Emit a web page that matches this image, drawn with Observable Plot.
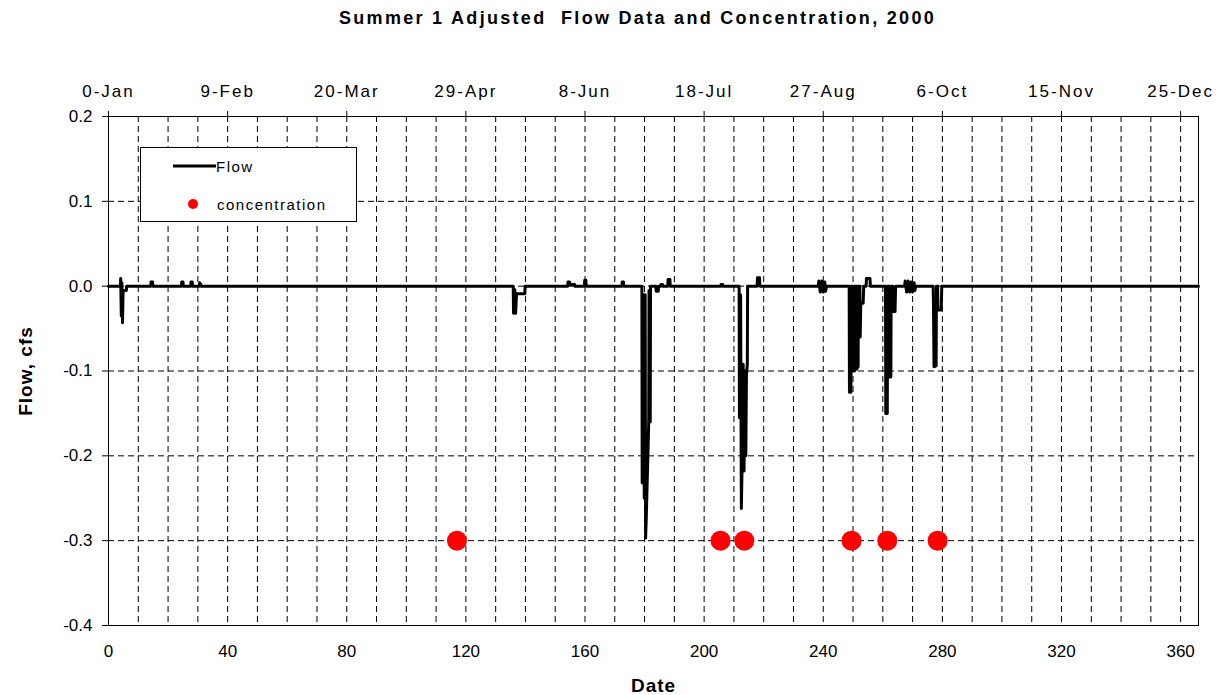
<!DOCTYPE html>
<html>
<head>
<meta charset="utf-8">
<script src="https://cdn.jsdelivr.net/npm/d3@7"></script>
<script src="https://cdn.jsdelivr.net/npm/@observablehq/plot@0.6"></script>
<style>
  body { margin: 0; background: #fff; font-family: "Liberation Sans", Arial, sans-serif; }
  #wrap { position: relative; width: 1227px; height: 695px; overflow: hidden; }
  #title { height: 36px; line-height: 36px; text-align: center; font-weight: bold; font-size: 18px;
           letter-spacing: 2.3px; white-space: pre; transform: translateX(24px); }
  #legend { position: absolute; left: 140px; top: 147px; width: 215px; height: 73px;
            border: 1px solid #000; background: #fff; font-size: 15px; letter-spacing: 1.5px; }
  #legend .row { position: absolute; left: 0; height: 20px; display: flex; align-items: center; }
  #legend svg { display: block; }
  #chart g[aria-label="y-axis label"] text,
  #chart g[aria-label="x-axis label"] text { font-weight: bold; font-size: 19px; letter-spacing: 1px; }
</style>
</head>
<body>
<div id="wrap">
  <div id="title"></div>
  <div id="chart"></div>
  <div id="legend"></div>
</div>
<script>
// Day of year (2000) and adjusted flow, cfs
const flowDays = [
  0,
  4.0, 4.1, 4.3, 4.5, 4.7, 4.9, 6.0, 6.1,
  14.2, 14.3, 14.8, 14.9,
  24.5, 24.6, 25.0, 25.1,
  27.6, 27.7, 28.1, 28.2,
  30.5, 30.6, 31.0, 31.1,
  135.9, 136.0, 136.4, 136.7, 137.0, 139.8, 139.9,
  154.2, 154.3, 154.8, 155.0, 156.5, 156.6,
  159.8, 159.9, 160.3, 160.4,
  172.4, 172.5, 172.9, 173.0,
  179.1, 179.2, 179.6, 179.9, 180.2, 180.35, 180.55, 181.4, 181.5, 181.9, 182.0,
  183.8, 183.9, 184.6, 184.7,
  185.4, 185.5, 186.0, 186.1,
  187.8, 187.9, 188.5, 188.6,
  205.6, 205.7, 206.2, 206.3,
  211.75, 211.85, 212.25, 212.5, 212.8, 213.1, 213.4, 213.7, 214.0, 214.2, 214.5, 214.6,
  217.8, 217.9, 218.6, 218.7,
  238.3, 238.5, 239.0, 239.5, 240.0, 240.5, 240.8, 241.1,
  248.7, 248.8, 249.3, 249.4, 249.9, 250.0, 250.5, 250.6, 251.1, 251.2, 251.7, 251.8, 252.3, 252.4, 252.6, 253.4, 253.6,
  254.4, 254.5, 255.7, 255.8,
  260.9, 261.0, 261.5, 261.6, 262.1, 262.2, 262.7, 262.8, 263.3, 263.4, 264.1, 264.3,
  267.3, 267.5, 268.0, 268.5, 269.0, 269.5, 270.0, 270.5, 270.8, 271.0,
  276.9, 277.0, 277.2, 277.9, 278.0, 278.4, 278.5, 279.6, 279.8,
  366
];
const flowCfs = [
  0,
  0, 0.009, -0.035, 0.004, -0.043, -0.005, -0.005, 0,
  0, 0.005, 0.005, 0,
  0, 0.005, 0.005, 0,
  0, 0.005, 0.005, 0,
  0, 0.004, 0.002, 0,
  0, -0.032, -0.004, -0.032, -0.009, -0.009, 0,
  0, 0.005, 0.005, 0.002, 0.002, 0,
  0, 0.007, 0.007, 0,
  0, 0.005, 0.005, 0,
  0, -0.232, -0.01, -0.25, -0.01, -0.297, -0.276, -0.16, -0.005, -0.16, 0,
  0, -0.006, -0.006, 0,
  0, 0.002, 0.002, 0,
  0, 0.008, 0.008, 0,
  0, 0.002, 0.002, 0,
  0, -0.155, -0.01, -0.262, -0.2, -0.092, -0.218, -0.1, -0.2, -0.105, -0.092, 0,
  0, 0.01, 0.01, 0,
  0, 0.006, -0.007, 0.006, -0.007, 0.005, -0.006, 0,
  0, -0.125, -0.125, 0, 0, -0.1, -0.1, 0, 0, -0.098, -0.095, 0, 0, -0.06, -0.02, -0.02, 0,
  0, 0.009, 0.009, 0,
  0, -0.15, -0.15, 0, 0, -0.107, -0.107, 0, 0, -0.03, -0.03, 0,
  0, 0.006, -0.007, 0.006, -0.007, 0.005, -0.007, 0.004, -0.005, 0,
  0, -0.02, -0.095, -0.094, 0, 0, -0.028, -0.028, 0,
  0
];

// Sampling days for concentration, plotted on the -0.3 reference level
const concDays = [117, 205.5, 213.5, 249.5, 261.5, 278.4];
const concLevel = [-0.3, -0.3, -0.3, -0.3, -0.3, -0.3];

// Axis ticks and labels
const xTicks = [0, 40, 80, 120, 160, 200, 240, 280, 320, 360];
const topTickLabels = ["0-Jan", "9-Feb", "20-Mar", "29-Apr", "8-Jun", "18-Jul", "27-Aug", "6-Oct", "15-Nov", "25-Dec"];
const yTicks = [-0.4, -0.3, -0.2, -0.1, 0, 0.1, 0.2];
const yGrid = [0.1, 0, -0.1, -0.2, -0.3];
const gridDays = d3.range(10, 361, 10);

const titleText = "Summer 1 Adjusted  Flow Data and Concentration, 2000";

const flow = flowDays.map((d, i) => ({day: d, cfs: flowCfs[i]}));
const conc = concDays.map((d, i) => ({day: d, value: concLevel[i]}));

document.getElementById("title").textContent = titleText;

const dash = "6,4";
const chart = Plot.plot({
  width: 1227,
  height: 659,
  marginLeft: 108,
  marginRight: 29,
  marginTop: 80,
  marginBottom: 70,
  style: {fontFamily: '"Liberation Sans", Arial, sans-serif', fontSize: "17px", color: "#000", background: "#fff", overflow: "visible"},
  x: {domain: [0, 366]},
  y: {domain: [-0.4, 0.2]},
  marks: [
    Plot.ruleX(gridDays, {x: d => d, stroke: "#000", strokeWidth: 1, strokeDasharray: dash}),
    Plot.ruleY(yGrid, {y: d => d, stroke: "#000", strokeWidth: 1, strokeDasharray: dash}),
    Plot.line(flow, {x: "day", y: "cfs", stroke: "#000", strokeWidth: 3}),
    Plot.dot(conc, {x: "day", y: "value", r: 10, fill: "#ff0000", stroke: "none"}),
    Plot.frame({stroke: "#000", strokeWidth: 1}),
    Plot.axisX(xTicks, {anchor: "bottom", tickSize: 0, tickPadding: 19, fontSize: 17,
      label: "Date", labelAnchor: "center", labelOffset: 66, labelArrow: "none"}),
    Plot.axisX(xTicks, {anchor: "top", tickSize: 6, tickPadding: 14, fontSize: 17,
      tickFormat: d => topTickLabels[xTicks.indexOf(d)], label: null}),
    Plot.axisY(yTicks, {anchor: "left", tickSize: 6, tickPadding: 10, fontSize: 17,
      tickFormat: d => d.toFixed(1), label: "Flow, cfs", labelAnchor: "center", labelOffset: 90, labelArrow: "none"})
  ]
});
document.getElementById("chart").appendChild(chart);

// Date labels along the top are set a little wider
const xTickLabelGroups = chart.querySelectorAll('g[aria-label="x-axis tick label"]');
if (xTickLabelGroups.length > 1) xTickLabelGroups[xTickLabelGroups.length - 1].style.letterSpacing = "2px";

// Legend box
const legend = document.getElementById("legend");
legend.innerHTML = `
  <div class="row" style="top:8px">
    <svg width="76" height="20"><line x1="32" y1="10" x2="75" y2="10" stroke="#000" stroke-width="3"/></svg>
    <span style="margin-left:-1px">Flow</span>
  </div>
  <div class="row" style="top:46px">
    <svg width="76" height="20"><circle cx="52" cy="10" r="5" fill="#ff0000"/></svg>
    <span>concentration</span>
  </div>`;
</script>
</body>
</html>
